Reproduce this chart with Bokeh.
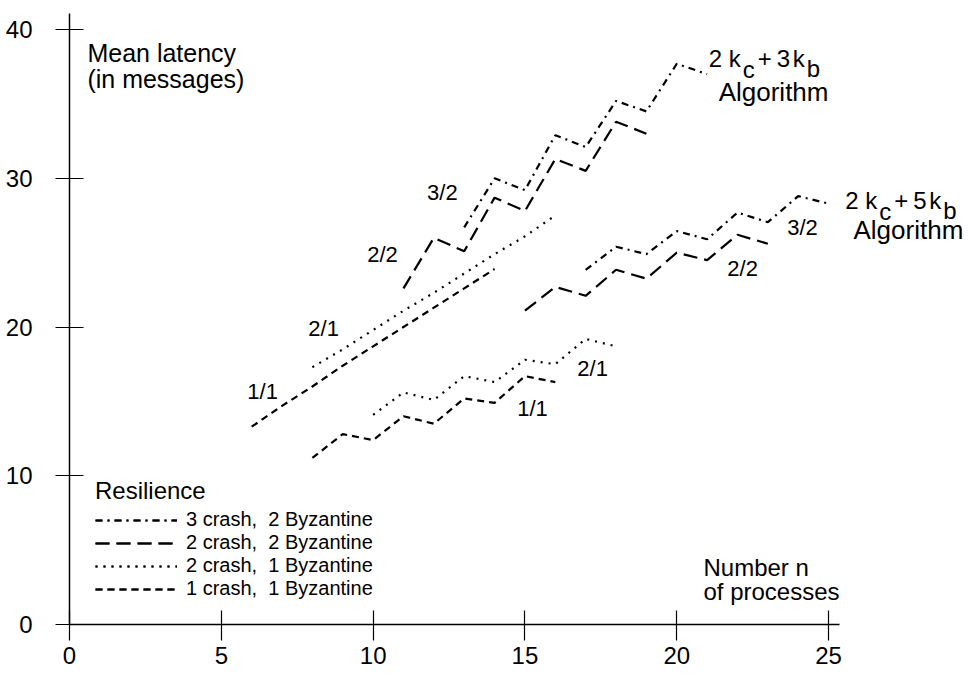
from bokeh.plotting import figure
from bokeh.models import Label, Legend, LegendItem, FixedTicker, Range1d
from bokeh.embed import file_html
from bokeh.resources import INLINE

# ---------------- data ----------------
x_ticks = [0, 5, 10, 15, 20, 25]
y_ticks = [0, 10, 20, 30, 40]

# 2 kc + 3 kb algorithm
n_a11 = [6, 7, 8, 9, 10, 11, 12, 13, 14]
lat_a11 = [13.3, 14.7, 16.0, 17.4, 18.7, 20.0, 21.3, 22.6, 23.9]
n_a21 = [8, 9, 10, 11, 12, 13, 14, 15, 16]
lat_a21 = [17.3, 18.5, 19.8, 21.1, 22.3, 23.6, 24.9, 26.1, 27.5]
n_a22 = [11, 12, 13, 14, 15, 16, 17, 18, 19]
lat_a22 = [22.6, 26.0, 25.1, 28.7, 27.8, 31.3, 30.5, 33.8, 33.0]
n_a32 = [13, 14, 15, 16, 17, 18, 19, 20, 21]
lat_a32 = [26.7, 30.0, 29.2, 32.9, 32.1, 35.2, 34.5, 37.7, 37.0]

# 2 kc + 5 kb algorithm
n_b11 = [8, 9, 10, 11, 12, 13, 14, 15, 16]
lat_b11 = [11.2, 12.8, 12.4, 14.0, 13.5, 15.2, 14.9, 16.7, 16.3]
n_b21 = [10, 11, 12, 13, 14, 15, 16, 17, 18]
lat_b21 = [14.1, 15.6, 15.1, 16.7, 16.3, 17.8, 17.5, 19.2, 18.7]
n_b22 = [15, 16, 17, 18, 19, 20, 21, 22, 23]
lat_b22 = [21.1, 22.7, 22.1, 23.85, 23.25, 25.0, 24.5, 26.2, 25.6]
n_b32 = [17, 18, 19, 20, 21, 22, 23, 24, 25]
lat_b32 = [23.85, 25.4, 24.9, 26.45, 25.9, 27.7, 27.05, 28.8, 28.3]

legend_labels = ["3 crash,  2 Byzantine", "2 crash,  2 Byzantine",
                 "2 crash,  1 Byzantine", "1 crash,  1 Byzantine"]

FONT = "Liberation Sans"

p = figure(width=972, height=675, output_backend="svg", toolbar_location=None,
           x_range=Range1d(0, 29.74), y_range=Range1d(0, 41.08),
           min_border_left=69, min_border_right=0, min_border_top=13,
           min_border_bottom=51)
p.grid.visible = False
p.outline_line_color = None
p.background_fill_color = "white"
p.border_fill_color = "white"

for ax in (p.xaxis[0], p.yaxis[0]):
    ax.axis_line_color = "black"
    ax.axis_line_width = 1.5
    ax.major_tick_line_color = "black"
    ax.major_tick_line_width = 1.2
    ax.minor_tick_in = 0
    ax.minor_tick_out = 0
    ax.major_label_text_font = FONT
    ax.major_label_text_font_size = "24px"
    ax.major_label_text_color = "black"

p.xaxis.ticker = FixedTicker(ticks=x_ticks)
p.xaxis.bounds = (0, 25.35)
p.xaxis.major_tick_in = 14
p.xaxis.major_tick_out = 16
p.xaxis.major_label_standoff = 6

p.yaxis.ticker = FixedTicker(ticks=y_ticks)
p.yaxis.major_tick_in = 14
p.yaxis.major_tick_out = 14
p.yaxis.major_label_standoff = 23

LW = 2.2
D32 = "7 5 2 5"
D22 = "14 7"
D21 = "2 6"
D11 = "7 5"

ra11 = p.line(n_a11, lat_a11, line_color="black", line_width=LW, line_dash=D11)
ra21 = p.line(n_a21, lat_a21, line_color="black", line_width=LW, line_dash=D21)
ra22 = p.line(n_a22, lat_a22, line_color="black", line_width=LW, line_dash=D22)
ra32 = p.line(n_a32, lat_a32, line_color="black", line_width=LW, line_dash=D32)
rb11 = p.line(n_b11, lat_b11, line_color="black", line_width=LW, line_dash=D11)
rb21 = p.line(n_b21, lat_b21, line_color="black", line_width=LW, line_dash=D21)
rb22 = p.line(n_b22, lat_b22, line_color="black", line_width=LW, line_dash=D22)
rb32 = p.line(n_b32, lat_b32, line_color="black", line_width=LW, line_dash=D32)

legend = Legend(items=[
    LegendItem(label=legend_labels[0], renderers=[ra32, rb32]),
    LegendItem(label=legend_labels[1], renderers=[ra22, rb22]),
    LegendItem(label=legend_labels[2], renderers=[ra21, rb21]),
    LegendItem(label=legend_labels[3], renderers=[ra11, rb11]),
], title="Resilience", location=(26, 24))
legend.title_text_font = FONT
legend.title_text_font_size = "24px"
legend.title_text_font_style = "normal"
legend.title_text_color = "black"
legend.title_standoff = 3
legend.label_text_font = FONT
legend.label_text_font_size = "20px"
legend.label_text_color = "black"
legend.glyph_width = 82
legend.glyph_height = 18
legend.label_height = 18
legend.label_standoff = 9
legend.spacing = -2
legend.padding = 0
legend.margin = 0
legend.border_line_color = None
legend.background_fill_alpha = 0
p.add_layout(legend, "center")


def lab(x, y, text, size="24px", align="left", xo=0, yo=0):
    p.add_layout(Label(x=x, y=y, text=text, x_offset=xo, y_offset=yo,
                       text_font=FONT, text_font_size=size,
                       text_align=align, text_baseline="middle",
                       text_color="black"))


# axis titles
lab(0.59, 38.4, "Mean latency", "25px")
lab(0.59, 36.7, "(in messages)", "25px")
lab(20.88, 3.83, "Number  n", "24px")
lab(20.88, 2.25, "of processes", "24px")

# resilience labels next to curves
for x, y, t in [(6.36, 15.67, "1/1"), (8.37, 19.9, "2/1"), (10.31, 24.88, "2/2"),
                (12.28, 29.05, "3/2"), (15.25, 14.53, "1/1"), (17.23, 17.22, "2/1"),
                (22.17, 23.94, "2/2"), (24.14, 26.7, "3/2")]:
    lab(x, y, t, "22px", "center")


def algo(x, y, coef):
    lab(x, y, "2 k", "24px")
    lab(x, y, "c", "24px", xo=34, yo=-11)
    lab(x, y, "+", "24px", xo=49)
    lab(x, y, coef, "24px", xo=68)
    lab(x, y, "k", "24px", xo=84)
    lab(x, y, "b", "24px", xo=98, yo=-10)


algo(21.05, 38.05, "3")
lab(21.38, 35.77, "Algorithm", "26px")
algo(25.55, 28.5, "5")
lab(25.82, 26.5, "Algorithm", "26px")

open("out.html", "w").write(file_html(p, INLINE))
